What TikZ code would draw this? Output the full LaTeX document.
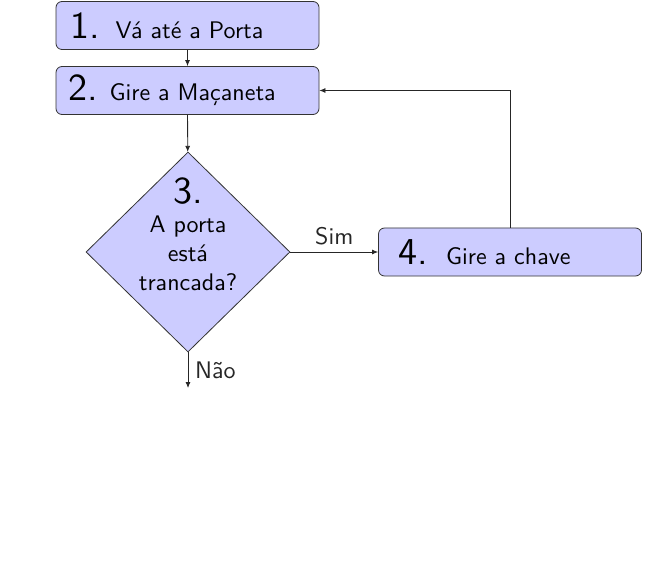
\documentclass[tikz,border=0pt]{standalone}
\usepackage{fontspec}
\setsansfont{lmsans10-regular.otf}
\usepackage{tikz}
\usetikzlibrary{arrows.meta,positioning,shapes.geometric}

\newcommand{\stepnum}[1]{{\fontsize{19}{21}\selectfont #1}}

\begin{document}
\begin{tikzpicture}[x=0.5pt,y=-0.5pt,font=\sffamily\fontsize{12}{14.5}\selectfont,
  passo/.style={draw=black!80,fill=blue!20,rounded corners=3pt,minimum width=131.5pt,minimum height=24pt,inner xsep=6pt,text width=119.5pt,align=left},
  decisao/.style={diamond,draw=black!80,fill=blue!20,minimum width=102pt,minimum height=100pt,inner sep=-20pt,text width=60pt,align=center},
  seta/.style={-{Latex[length=3pt,width=2.5pt]},black!85}]
\useasboundingbox (0,0) rectangle (651,571);

% Passos
\node[passo] (passo1) at (187.5,25.5) {\hspace*{1pt}\stepnum{1.}\hspace{8pt}Vá até a Porta};
\node[passo] (passo2) at (187.5,90.5) {\stepnum{2.} Gire a Maçaneta};
\node[passo] (passo4) at (510,252) {\hspace*{4pt}\stepnum{4.}\hspace{9pt}Gire a chave};

% Pergunta
\node[decisao] (pergunta) at (188,252) {\stepnum{3.}\\ A porta\\ está\\ trancada?\\[3pt]\mbox{}};
\coordinate (fim) at (188,388);

% Setas
\draw[seta] (passo1) -- (passo2);
\draw[seta] (passo2) -- (pergunta);
\draw[seta] (pergunta) -- node[above]{Sim} (passo4);
\draw[seta] (pergunta.south) -- node[right]{Não} (fim);
\draw[seta] (passo4.north) |- (passo2.east);
\end{tikzpicture}
\end{document}
